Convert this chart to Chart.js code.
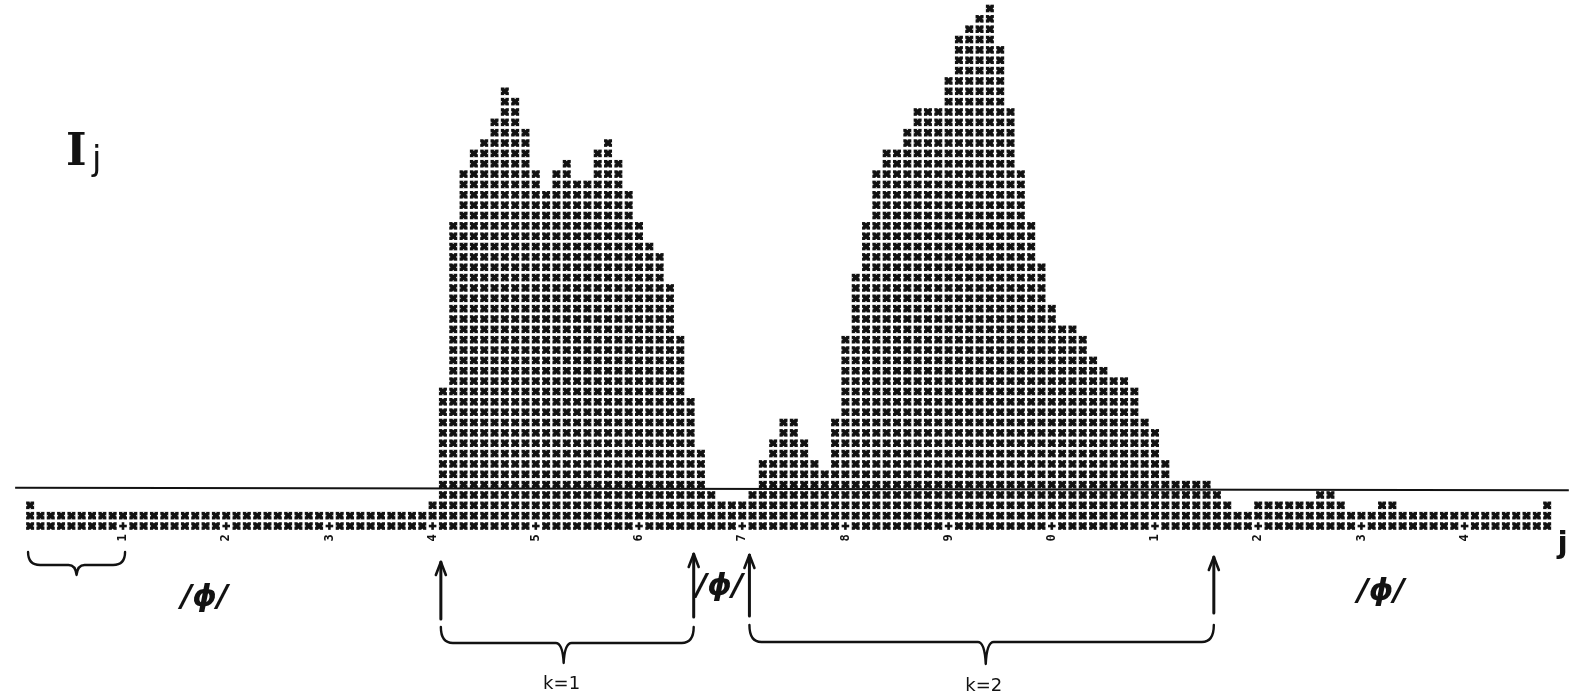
<!DOCTYPE html>
<html>
<head>
<meta charset="utf-8">
<script src="https://cdn.jsdelivr.net/npm/chart.js@4.4.1/dist/chart.umd.min.js"></script>
<style>
  html, body { margin: 0; padding: 0; background: #ffffff; }
  canvas { display: block; }
</style>
</head>
<body>
<canvas id="plot" width="1576" height="697"></canvas>
<script>
// Printer columns j = 0 .. 149
const COLUMNS = Array.from({ length: 150 }, (_, j) => String(j));

// Intensity I_j per column, in printed characters
const I_J = [
  0, 3, 2, 2, 2, 2, 2, 2, 2, 2,
  2, 2, 2, 2, 2, 2, 2, 2, 2, 2,
  2, 2, 2, 2, 2, 2, 2, 2, 2, 2,
  2, 2, 2, 2, 2, 2, 2, 2, 2, 2,
  3, 14, 30, 35, 37, 38, 40, 43, 42, 39,
  35, 33, 35, 36, 34, 34, 37, 38, 36, 33,
  30, 28, 27, 24, 19, 13, 8, 4, 3, 3,
  3, 4, 7, 9, 11, 11, 9, 7, 6, 11,
  19, 25, 30, 35, 37, 37, 39, 41, 41, 41,
  44, 48, 49, 50, 51, 47, 41, 35, 30, 26,
  22, 20, 20, 19, 17, 16, 15, 15, 14, 11,
  10, 7, 5, 5, 5, 5, 4, 3, 2, 2,
  3, 3, 3, 3, 3, 3, 4, 4, 3, 2,
  2, 2, 3, 3, 2, 2, 2, 2, 2, 2,
  2, 2, 2, 2, 2, 2, 2, 2, 3, 0
];

// Every tenth column carries a '+' and a one-digit label
const TICK_COLUMNS = [10, 20, 30, 40, 50, 60, 70, 80, 90, 100, 110, 120, 130, 140];
const TICK_LABELS = ['1', '2', '3', '4', '5', '6', '7', '8', '9', '0', '1', '2', '3', '4'];

// Hand-drawn threshold: level at the first and at the last column
const THRESHOLD_LEVEL = [4.2, 3.95];

// Hand-written notes below the axis (columns in scale units, heights in px)
const INK = '#121212';
const ARROWS = [
  { col: 40.8, top: 562, bottom: 619 },
  { col: 65.3, top: 554, bottom: 617 },
  { col: 70.7, top: 555, bottom: 616 },
  { col: 115.7, top: 557, bottom: 613 }
];
const BRACES = [
  { from: 0.8, to: 10.2, tip: 5.5, top: 552, mid: 565, bottom: 575 },
  { from: 40.8, to: 65.3, tip: 52.7, top: 627, mid: 643, bottom: 663 },
  { from: 70.7, to: 115.7, tip: 93.6, top: 625, mid: 642, bottom: 664 }
];
const NOTES = [
  { text: '/\u03d5/', col: 17.9, y: 598, font: 'italic bold 31px "DejaVu Sans"' },
  { text: '/\u03d5/', col: 67.8, y: 587, font: 'italic bold 31px "DejaVu Sans"' },
  { text: '/\u03d5/', col: 131.9, y: 592, font: 'italic bold 31px "DejaVu Sans"' },
  { text: 'k=1', col: 52.5, y: 684, font: '18px "DejaVu Sans"' },
  { text: 'k=2', col: 93.4, y: 686, font: '18px "DejaVu Sans"' },
  { text: 'j', col: 149.5, y: 545, font: 'bold 30px "DejaVu Sans"' }
];

function tickLabelFor(index) {
  const k = TICK_COLUMNS.indexOf(index);
  return k >= 0 ? TICK_LABELS[k] : '';
}

// Overstruck line-printer character
function drawStar(ctx, x, y) {
  ctx.fillStyle = INK;
  ctx.fillRect(x - 4, y - 3.8, 8, 7.6);
  ctx.fillStyle = '#ffffff';
  ctx.beginPath();
  ctx.moveTo(x - 1.1, y - 3.9); ctx.lineTo(x + 1.1, y - 3.9); ctx.lineTo(x, y - 2.5); ctx.closePath();
  ctx.moveTo(x - 1.1, y + 3.9); ctx.lineTo(x + 1.1, y + 3.9); ctx.lineTo(x, y + 2.5); ctx.closePath();
  ctx.moveTo(x - 4.1, y - 1.1); ctx.lineTo(x - 4.1, y + 1.1); ctx.lineTo(x - 2.7, y); ctx.closePath();
  ctx.moveTo(x + 4.1, y - 1.1); ctx.lineTo(x + 4.1, y + 1.1); ctx.lineTo(x + 2.7, y); ctx.closePath();
  ctx.fill();
}

function drawPlus(ctx, x, y) {
  ctx.fillStyle = INK;
  ctx.fillRect(x - 3.8, y - 1.3, 7.6, 2.6);
  ctx.fillRect(x - 1.3, y - 3.8, 2.6, 7.6);
}

const printerColumns = {
  id: 'printerColumns',
  afterDatasetsDraw(chart) {
    const ctx = chart.ctx;
    const xs = chart.scales.x;
    const ys = chart.scales.y;
    const meta = chart.getDatasetMeta(0);
    ctx.save();
    meta.data.forEach((bar, j) => {
      const n = I_J[j];
      for (let k = 1; k <= n; k++) {
        const y = ys.getPixelForValue(k - 0.5);
        if (k === 1 && TICK_COLUMNS.includes(j)) drawPlus(ctx, bar.x, y);
        else drawStar(ctx, bar.x, y);
      }
    });
    // threshold line across the whole record
    ctx.strokeStyle = INK;
    ctx.lineWidth = 2;
    ctx.beginPath();
    ctx.moveTo(xs.getPixelForValue(-0.45), ys.getPixelForValue(THRESHOLD_LEVEL[0]));
    ctx.lineTo(xs.getPixelForValue(150.1), ys.getPixelForValue(THRESHOLD_LEVEL[1]));
    ctx.stroke();
    ctx.restore();
  }
};

const handNotes = {
  id: 'handNotes',
  afterDraw(chart) {
    const ctx = chart.ctx;
    const xs = chart.scales.x;
    ctx.save();
    ctx.strokeStyle = INK;
    ctx.fillStyle = INK;
    ctx.lineCap = 'round';
    ctx.lineJoin = 'round';

    ARROWS.forEach(a => {
      const x = xs.getPixelForValue(a.col);
      ctx.lineWidth = 3;
      ctx.beginPath();
      ctx.moveTo(x, a.bottom);
      ctx.lineTo(x, a.top);
      ctx.stroke();
      ctx.lineWidth = 2.6;
      ctx.beginPath();
      ctx.moveTo(x - 5, a.top + 13);
      ctx.lineTo(x, a.top);
      ctx.lineTo(x + 5, a.top + 13);
      ctx.stroke();
    });

    BRACES.forEach(b => {
      const x0 = xs.getPixelForValue(b.from);
      const x1 = xs.getPixelForValue(b.to);
      const xt = xs.getPixelForValue(b.tip);
      const r = Math.min(12, (b.mid - b.top));
      ctx.lineWidth = 2.4;
      ctx.beginPath();
      ctx.moveTo(x0, b.top);
      ctx.quadraticCurveTo(x0, b.mid, x0 + r, b.mid);
      ctx.lineTo(xt - 8, b.mid);
      ctx.quadraticCurveTo(xt - 1, b.mid, xt, b.bottom);
      ctx.quadraticCurveTo(xt + 1, b.mid, xt + 8, b.mid);
      ctx.lineTo(x1 - r, b.mid);
      ctx.quadraticCurveTo(x1, b.mid, x1, b.top);
      ctx.stroke();
    });

    ctx.textAlign = 'center';
    ctx.textBaseline = 'middle';
    NOTES.forEach(n => {
      ctx.font = n.font;
      ctx.fillText(n.text, xs.getPixelForValue(n.col), n.y);
    });

    // axis title I_j at the upper left
    ctx.textAlign = 'left';
    ctx.textBaseline = 'alphabetic';
    ctx.font = 'bold 44px "DejaVu Serif"';
    ctx.fillText('I', 66, 165);
    ctx.font = '34px "DejaVu Sans"';
    ctx.fillText('j', 92, 170);
    ctx.restore();
  }
};

new Chart(document.getElementById('plot'), {
  type: 'bar',
  data: {
    labels: COLUMNS,
    datasets: [{
      label: 'I_j',
      data: I_J,
      backgroundColor: 'rgba(0,0,0,0)',
      borderWidth: 0
    }]
  },
  options: {
    responsive: false,
    animation: false,
    devicePixelRatio: 1,
    layout: { padding: { left: 14.64, right: 13.36, top: 0, bottom: 0 } },
    plugins: {
      legend: { display: false },
      tooltip: { enabled: false },
      title: { display: false }
    },
    scales: {
      x: {
        offset: true,
        grid: { display: false, drawTicks: false },
        border: { display: false },
        ticks: {
          autoSkip: false,
          minRotation: 90,
          maxRotation: 90,
          padding: 3,
          color: INK,
          font: { family: '"DejaVu Sans Mono"', size: 12, weight: 'bold' },
          callback: (value, index) => tickLabelFor(index)
        },
        afterFit: scale => { scale.height = 697 - 531.2; }
      },
      y: { display: false, min: 0, max: 51.32 }
    }
  },
  plugins: [printerColumns, handNotes]
});
</script>
</body>
</html>
